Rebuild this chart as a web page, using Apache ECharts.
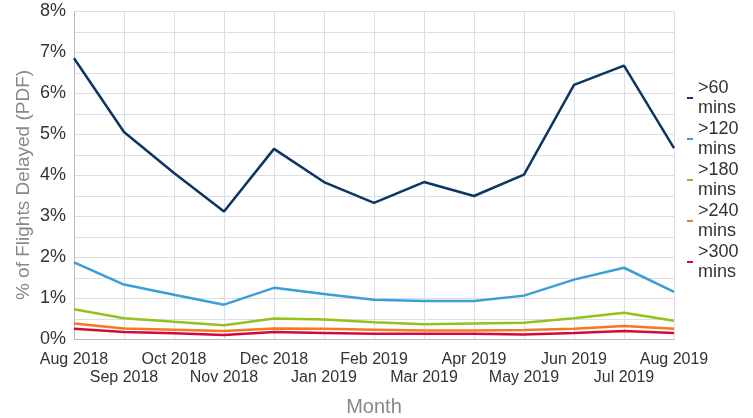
<!DOCTYPE html>
<html>
<head>
<meta charset="utf-8">
<script src="https://cdn.jsdelivr.net/npm/echarts@6/dist/echarts.min.js"></script>
<style>
html,body{margin:0;padding:0;background:#fff;}
#chart{width:753px;height:418px;}
</style>
</head>
<body>
<div id="chart"></div>
<script>
var months = ['Aug 2018','Sep 2018','Oct 2018','Nov 2018','Dec 2018','Jan 2019','Feb 2019','Mar 2019','Apr 2019','May 2019','Jun 2019','Jul 2019','Aug 2019'];
var seriesNames = ['>60\nmins','>120\nmins','>180\nmins','>240\nmins','>300\nmins'];
var over60  = [6.86, 5.06, 4.06, 3.12, 4.65, 3.84, 3.33, 3.84, 3.50, 4.02, 6.21, 6.68, 4.67];
var over120 = [1.88, 1.34, 1.09, 0.85, 1.26, 1.11, 0.97, 0.94, 0.94, 1.07, 1.46, 1.75, 1.16];
var over180 = [0.74, 0.52, 0.43, 0.35, 0.51, 0.49, 0.42, 0.37, 0.39, 0.41, 0.52, 0.65, 0.46];
var over240 = [0.39, 0.27, 0.24, 0.21, 0.27, 0.26, 0.24, 0.22, 0.22, 0.23, 0.26, 0.33, 0.26];
var over300 = [0.26, 0.18, 0.15, 0.11, 0.18, 0.16, 0.14, 0.14, 0.14, 0.12, 0.16, 0.21, 0.16];
var colors = ['#0b3563','#3a9fd6','#95c11f','#f47920','#d6083b'];
var dataSets = [over60, over120, over180, over240, over300];

var chart = echarts.init(document.getElementById('chart'));
var font = 'Liberation Sans, Arial, Helvetica, sans-serif';
chart.setOption({
  animation: false,
  textStyle: {fontFamily: font},
  grid: {left: 74, right: 79, top: 11.5, bottom: 78.5, containLabel: false, outerBoundsMode: 'none'},
  legend: {
    orient: 'vertical',
    left: 682, top: 73,
    itemWidth: 6, itemHeight: 2, itemGap: 1,
    icon: 'rect',
    textStyle: {fontSize: 18, color: '#333', lineHeight: 20, fontFamily: font},
    data: seriesNames
  },
  xAxis: {
    type: 'category',
    data: months,
    boundaryGap: false,
    axisLine: {lineStyle: {color: '#b8b8c0'}},
    axisTick: {show: false},
    axisLabel: {
      interval: 0, fontSize: 16, color: '#333', lineHeight: 18, margin: 11.5,
      formatter: function (v, i) { return i % 2 ? '\n' + v : v; }
    },
    splitLine: {show: true, lineStyle: {color: '#dddde6', width: 1}},
    name: 'Month', nameLocation: 'middle', nameGap: 57.5,
    nameTextStyle: {fontSize: 20, color: '#888'}
  },
  yAxis: {
    type: 'value', min: 0, max: 8, interval: 0.5,
    axisLine: {show: true, lineStyle: {color: '#b8b8c0'}},
    axisTick: {show: false},
    axisLabel: {
      fontSize: 18, color: '#333', margin: 8,
      formatter: function (v) { return Math.abs(v - Math.round(v)) < 1e-9 ? v + '%' : ''; }
    },
    splitLine: {lineStyle: {color: '#dddde6', width: 1}}
  },
  graphic: [{
    type: 'text', x: 24, y: 185, rotation: Math.PI / 2,
    style: {text: '% of Flights Delayed (PDF)', fontSize: 19, fill: '#888', fontFamily: font,
            align: 'center', verticalAlign: 'middle'}
  }],
  series: dataSets.map(function (d, k) {
    return {
      name: seriesNames[k], type: 'line', data: d,
      symbol: 'none', color: colors[k],
      lineStyle: {width: 2.5, color: colors[k]}
    };
  }).reverse()
});
</script>
</body>
</html>
